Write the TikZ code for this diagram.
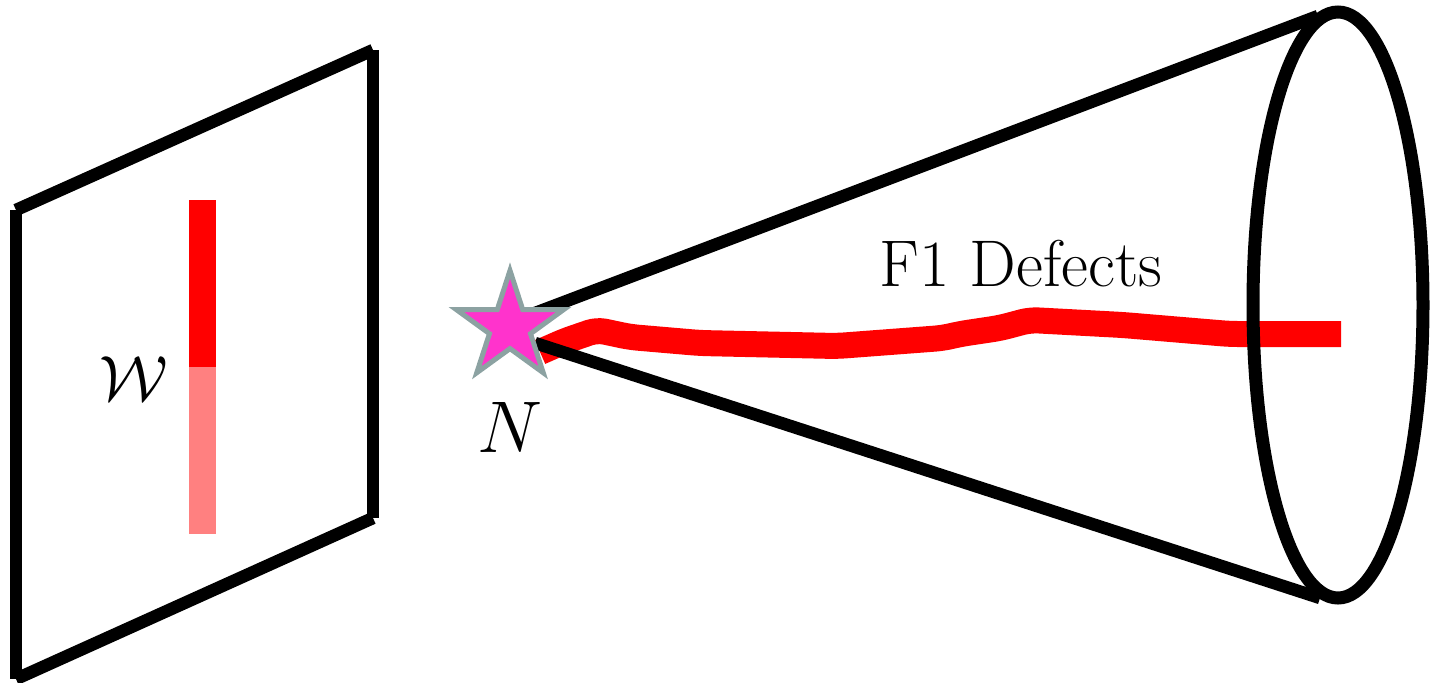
\RequirePackage{fix-cm}
\documentclass[tikz,border=0pt]{standalone}
\usepackage{fontspec}
\usetikzlibrary{shapes.geometric}
\definecolor{starpink}{RGB}{255,51,204}
\definecolor{stargray}{RGB}{140,162,162}
\definecolor{lightred}{RGB}{255,128,128}
\begin{document}
\begin{tikzpicture}[x=0.5pt,y=-0.5pt,
  edge/.style={line width=6.25pt, line cap=butt, black},
  defect/.style={red, line width=13pt, line join=round, line cap=butt, rounded corners=4pt},
  rimstyle/.style={draw=black, line width=6.5pt, ellipse, inner sep=0pt, minimum width=85pt, minimum height=293pt},
  starstyle/.style={star, star points=5, star point ratio=2.618, fill=starpink, draw=stargray, line width=2.5pt, inner sep=0pt, minimum size=56.5pt},
  lbl/.style={inner sep=0pt, anchor=base}]
\useasboundingbox (0,0) rectangle (1431,682);
% plane
\coordinate (A) at (16,210);
\coordinate (B) at (373,50);
\coordinate (C) at (373,518);
\coordinate (D) at (16,679);
\draw[edge] (A) -- (D);
\draw[edge] (A) -- (B);
\draw[edge] (B) -- (C);
\draw[edge] (C) -- (D);
% W bar
\fill[red] (189,200) rectangle (216,367);
\fill[lightred] (189,367) rectangle (216,534);
\node[lbl] (W) at (134,400) {\fontsize{32}{36}\selectfont $\mathcal{W}$};
% defect line
\coordinate (d0) at (540,352);
\coordinate (d1) at (1341,334);
\draw[defect] (d0) -- (565,341) -- (597,330) -- (630,337) -- (700,343) -- (837,346) -- (943,338) -- (960,334) -- (1000,328) -- (1030,320) -- (1123,325) -- (1230,334) -- (d1);
% cone
\node[rimstyle] (rim) at (1338,305) {};
\coordinate (ct) at (535,313);
\coordinate (cb) at (535,343);
\coordinate (rt) at (1318,16);
\coordinate (rb) at (1320,598);
\draw[edge] (ct) -- (rt);
\draw[edge] (cb) -- (rb);
% star
\node[starstyle] (N) at (510,327) {};
\node[lbl] (Nlbl) at (510,452) {\fontsize{36.6}{40}\selectfont $N$};
\node[lbl] (F) at (1021,286) {\fontsize{33}{38}\selectfont F1 Defects};
\end{tikzpicture}
\end{document}
